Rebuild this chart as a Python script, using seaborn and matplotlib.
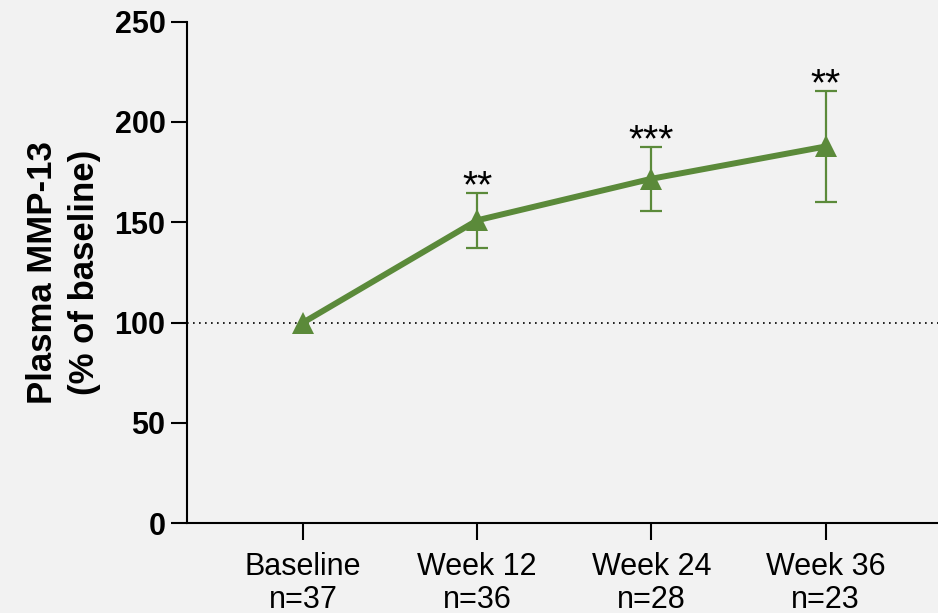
import numpy as np
import pandas as pd
import matplotlib
matplotlib.use("Agg")
import matplotlib.pyplot as plt
import seaborn as sns

# Plasma MMP-13 over time, as % of baseline (mean ± SEM)
timepoints = ["Baseline", "Week 12", "Week 24", "Week 36"]
n_subjects = [37, 36, 28, 23]
mean_pct = [100.0, 151.0, 171.7, 187.8]
sem_pct = [0.0, 13.6, 16.0, 27.7]
significance = ["", "**", "***", "**"]

y_ticks = [0, 50, 100, 150, 200, 250]

GREEN = "#5b8a3a"
BG = "#f2f2f2"

sns.set_theme(style="ticks")
plt.rcParams["font.family"] = ["Liberation Sans", "DejaVu Sans"]

df = pd.DataFrame({
    "pos": np.arange(len(timepoints)),
    "mean": mean_pct,
    "sem": sem_pct,
})

fig = plt.figure(figsize=(9.38, 6.13), dpi=100, facecolor=BG)
ax = fig.add_axes([0.1994, 0.1465, 0.8006, 0.8181])
ax.set_facecolor(BG)

# reference line at 100 %
ax.axhline(100, color="black", lw=1.2, ls=(0, (1, 2.6)), zorder=1)

# error bars for the follow-up visits
fu = df.iloc[1:]
ax.errorbar(fu["pos"], fu["mean"], yerr=fu["sem"], fmt="none",
            ecolor=GREEN, elinewidth=1.6, capsize=8, capthick=1.6, zorder=2)

sns.lineplot(data=df, x="pos", y="mean", ax=ax, color=GREEN, lw=4.3,
             marker="^", markersize=16.5, markeredgewidth=0,
             markerfacecolor=GREEN, zorder=3)

# significance markers above the error bars
for i, (m, s, lab) in enumerate(zip(mean_pct, sem_pct, significance)):
    if lab:
        ax.annotate(lab, xy=(i, m + s), xytext=(0, -3), textcoords="offset points",
                    ha="center", va="baseline", fontsize=28, color="black")

ax.set_xlim(-0.666, 3.645)
ax.set_ylim(0, 250)
ax.set_yticks(y_ticks)
ax.set_yticklabels([str(v) for v in y_ticks], fontweight="bold", fontsize=22)
ax.set_xticks(df["pos"])
ax.set_xticklabels([f"{t}\nn={n}" for t, n in zip(timepoints, n_subjects)],
                   fontsize=22, linespacing=1.1)

ax.set_xlabel("")
ax.set_ylabel("Plasma MMP-13\n(% of baseline)", fontsize=25, fontweight="bold",
              linespacing=1.35, labelpad=10, color="black")

for side in ("top", "right"):
    ax.spines[side].set_visible(False)
for side in ("left", "bottom"):
    ax.spines[side].set_linewidth(1.5)
    ax.spines[side].set_color("black")
ax.tick_params(axis="y", length=11.5, width=1.5, pad=4, colors="black")
ax.tick_params(axis="x", length=12, width=1.5, pad=9, colors="black")

fig.savefig("out.png", dpi=100, facecolor=BG)
